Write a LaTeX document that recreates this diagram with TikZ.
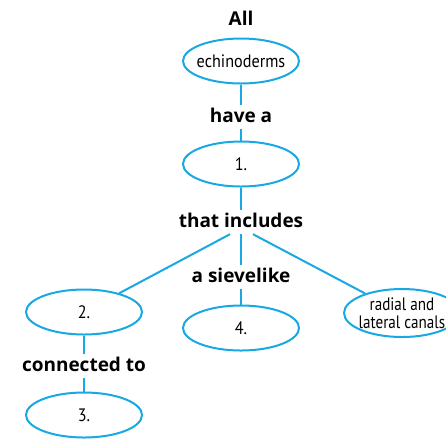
\documentclass[tikz,border=0pt]{standalone}
\usepackage{fontspec}
\setmainfont{PT Sans}
\newfontfamily\condfont[FakeStretch=0.9]{PT Sans}
\newfontfamily\narrowfont[FakeStretch=0.84]{PT Sans}
\newfontfamily\linkfont{Open Sans}
\usetikzlibrary{shapes.geometric}
\definecolor{linkblue}{RGB}{24,168,228}
\begin{document}
\begin{tikzpicture}[x=1pt,y=-1pt,
  concept/.style={ellipse, draw=linkblue, line width=2pt, minimum width=116pt,
    minimum height=45pt, inner sep=-14pt, align=center,
    font=\condfont\fontsize{18}{18}\selectfont},
  linkword/.style={font=\linkfont\bfseries\fontsize{19}{22}\selectfont,
    text height=14pt, text depth=4pt, inner xsep=3pt, inner ysep=3pt},
  link/.style={draw=linkblue, line width=2pt}]
\useasboundingbox (0,0) rectangle (446,440);
\clip (0,0) rectangle (446,440);

% concepts and linking words
\node[linkword] (all) at (241,20) {All};
\node[concept] (ech) at (241,61) {echinoderms};
\node[linkword] (have) at (241,117) {have a};
\node[concept] (one) at (241,164) {1.};
\node[linkword] (inc) at (241,222) {that includes};
\node[linkword] (sieve) at (241,277) {a sievelike};
\node[concept] (four) at (241,328) {4.};
\node[concept] (two) at (84,312) {2.};
\node[concept, minimum height=48pt, font=\narrowfont\fontsize{18}{18}\selectfont]
  (rad) at (402,313) {radial and\\lateral canals};
\node[linkword] (conn) at (84,366) {connected to};
\node[concept] (three) at (84,415) {3.};

% connectors
\draw[link] (ech) -- (have);
\draw[link] (have) -- (one);
\draw[link] (one) -- (inc);
\draw[link] (inc) -- (sieve);
\draw[link] (sieve) -- (four);
\draw[link] ([xshift=-11pt]inc.south) -- (two);
\draw[link] ([xshift=12pt]inc.south) -- (rad);
\draw[link] (two) -- (conn);
\draw[link] (conn) -- (three);
\end{tikzpicture}
\end{document}
